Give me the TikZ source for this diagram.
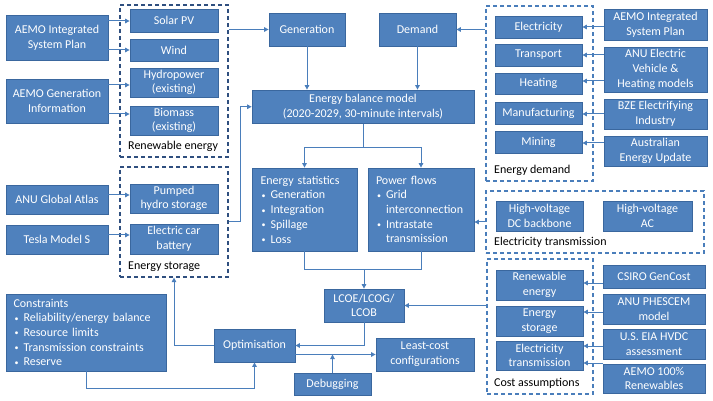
\documentclass[tikz,border=0pt]{standalone}
\usepackage{fontspec}
\setmainfont{Carlito}
\usetikzlibrary{arrows.meta}
\definecolor{bfill}{HTML}{4F81BD}
\definecolor{bline}{HTML}{3A679E}
\definecolor{arrc}{HTML}{4A7EBB}
\definecolor{ddash}{HTML}{2F4F7F}
\definecolor{ldash}{HTML}{4A7EBB}
\newcommand\Bx[7][]{%
  \pgfmathsetmacro\bxw{#5-#3}\pgfmathsetmacro\bxh{#6-#4}%
  \pgfmathsetmacro\bxx{(#3+#5)/2}\pgfmathsetmacro\bxy{(#4+#6)/2}%
  \node[box,minimum width=\bxw pt,minimum height=\bxh pt,#1] (#2) at (\bxx,\bxy) {#7};}
\newcommand\Dx[6][ddash]{%
  \pgfmathsetmacro\bxw{#5-#3}\pgfmathsetmacro\bxh{#6-#4}%
  \pgfmathsetmacro\bxx{(#3+#5)/2}\pgfmathsetmacro\bxy{(#4+#6)/2}%
  \node[dashbox,draw=#1,minimum width=\bxw pt,minimum height=\bxh pt] (#2) at (\bxx,\bxy) {};}
\newcommand\bl[1]{\hspace*{1pt}\makebox[9pt][l]{\raisebox{0.6pt}{\fontsize{8}{8}\selectfont\textbullet}}#1}
\newcommand\rarr[3]{\coordinate (tmp) at (0,#3); \draw[arr] (#1.east |- tmp) -- (#2.west |- tmp);}
\newcommand\larr[3]{\coordinate (tmp) at (0,#3); \draw[arr] (#1.west |- tmp) -- (#2.east |- tmp);}
\begin{document}
\begin{tikzpicture}[x=1pt,y=-1pt,
  box/.style={draw=bline,fill=bfill,text=white,line width=0.8pt,inner sep=1pt,align=center,font=\fontsize{12}{14.7}\selectfont},
  dashbox/.style={dash pattern=on 4pt off 3pt,line width=1.2pt,inner sep=0pt},
  lab/.style={font=\fontsize{12}{14.7}\selectfont,text=black,anchor=west,inner sep=0pt},
  arr/.style={draw=arrc,line width=1pt,-{Triangle[length=4.5pt,width=4.5pt]}},
  ln/.style={draw=arrc,line width=1pt}]
\useasboundingbox[fill=white] (0,0) rectangle (713,401);
% left column
\Bx{isp}{6}{15}{108}{60}{AEMO Integrated\\System Plan}
\Bx{gi}{6}{79}{108}{123}{AEMO Generation\\Information}
\Bx{ga}{6}{185}{108}{214}{ANU Global Atlas}
\Bx{tesla}{6}{225}{108}{254}{Tesla Model S}
% renewable energy
\Dx{renew}{120}{5}{228}{157}
\node[lab] (renewlab) at (128,146) {Renewable energy};
\Bx{solar}{130}{9}{218}{32}{Solar PV}
\Bx{wind}{130}{39}{218}{61}{Wind}
\Bx{hydro}{130}{68}{218}{97}{Hydropower\\(existing)}
\Bx{bio}{130}{106}{218}{135}{Biomass\\(existing)}
% storage
\Dx{stor}{120}{167}{228}{277}
\node[lab] (storlab) at (128,267) {Energy storage};
\Bx{ph}{130}{184}{218}{213}{Pumped\\hydro storage}
\Bx{ecb}{130}{224}{218}{254}{Electric car\\battery}
% centre
\Bx{gen}{269}{13}{345}{46}{Generation}
\Bx{dem}{379}{13}{456}{46}{Demand}
\Bx{ebm}{252}{90}{474}{123.5}{Energy balance model\\(2020-2029, 30-minute intervals)}
\Bx[align=left,text width=88pt]{stat}{252}{168}{357}{251}{Energy statistics\\\bl{Generation}\\\bl{Integration}\\\bl{Spillage}\\\bl{Loss}}
\Bx[align=left,text width=90pt]{pf}{368}{168}{474}{251}{Power flows\\\bl{Grid}\\\hspace*{10pt}interconnection\\\bl{Intrastate}\\\hspace*{10pt}transmission}
\Bx{lcoe}{324}{289}{404}{322}{LCOE/LCOG/\\LCOB}
\Bx{opt}{214}{329}{295}{362}{Optimisation}
\Bx{lc}{376}{338}{474}{371}{Least-cost\\configurations}
\Bx{dbg}{294}{373}{371}{395}{Debugging}
\Bx[align=left,text width=145pt]{con}{6}{294}{166}{371}{Constraints\\\bl{Reliability/energy balance}\\\bl{Resource limits}\\\bl{Transmission constraints}\\\bl{Reserve}}
% energy demand
\Dx[ldash]{edem}{486}{6}{593}{181}
\node[lab] (edemlab) at (494,170) {Energy demand};
\Bx{elec}{495}{16}{582}{38}{Electricity}
\Bx{trans}{495}{44}{582}{66}{Transport}
\Bx{heat}{495}{73}{582}{94}{Heating}
\Bx{manu}{495}{102}{582}{124}{Manufacturing}
\Bx{mine}{495}{131}{582}{153}{Mining}
\Bx{risp}{604}{9}{707}{40}{AEMO Integrated\\System Plan}
\Bx{anu}{604}{47}{707}{92}{ANU Electric\\Vehicle \&\\Heating models}
\Bx{bze}{604}{99}{707}{129}{BZE Electrifying\\Industry}
\Bx{aeu}{604}{136}{707}{166}{Australian\\Energy Update}
% electricity transmission
\Dx[ldash]{etr}{486}{191}{704}{253}
\node[lab] (etrlab) at (494,242) {Electricity transmission};
\Bx{hvdc}{496}{201}{583}{231}{High-voltage\\DC backbone}
\Bx{hvac}{603}{201}{692}{231}{High-voltage\\AC}
% cost assumptions
\Dx[ldash]{cost}{487}{259}{593}{394}
\node[lab] (costlab) at (494,383) {Cost assumptions};
\Bx{cre}{496}{270}{583}{300}{Renewable\\energy}
\Bx{cst}{496}{306}{583}{336}{Energy\\storage}
\Bx{ctr}{496}{341}{583}{370}{Electricity\\transmission}
\Bx{csiro}{603}{265}{705}{288}{CSIRO GenCost}
\Bx{phes}{603}{294}{705}{324}{ANU PHESCEM\\model}
\Bx{eia}{603}{329}{705}{359}{U.S. EIA HVDC\\assessment}
\Bx{a100}{603}{364}{705}{393}{AEMO 100\%\\Renewables}
% connectors: left inputs
\rarr{isp}{solar}{21}
\rarr{isp}{wind}{50}
\rarr{gi}{hydro}{85}
\rarr{gi}{bio}{114}
\rarr{ga}{ph}{195}
\rarr{tesla}{ecb}{235}
% right inputs
\larr{risp}{elec}{27}
\larr{anu}{trans}{55}
\larr{anu}{heat}{81}
\larr{bze}{manu}{114}
\larr{aeu}{mine}{143}
\larr{csiro}{cre}{283}
\larr{phes}{cst}{312}
\larr{eia}{ctr}{346}
\larr{a100}{ctr}{363}
% centre flows
\draw[arr] (renew.east |- gen.west) -- (gen.west);
\draw[arr] (edem.west |- dem.east) -- (dem.east);
\draw[arr] (gen.south) -- (gen.south |- ebm.north);
\draw[arr] (dem.south) -- (dem.south |- ebm.north);
\draw[arr] (stor.east) -- ++(12,0) |- (ebm.west);
\draw[arr] (ebm.south) -- ++(0,23.5) -| (stat.north);
\draw[arr] (ebm.south) -- ++(0,23.5) -| (pf.north);
\draw[arr] (etr.west) -- (etr.west -| pf.east);
\path (lcoe.north) ++(0,-19) coordinate (j2);
\draw[ln] (stat.south) |- (j2) -| (pf.south);
\draw[arr] (j2) -- (lcoe.north);
\draw[arr] (cost.west |- lcoe.east) -- (lcoe.east);
\draw[arr] (lcoe.south) |- (opt.east);
\draw[arr] (opt.east |- lc.west) -- (lc.west);
\draw[arr] (dbg.north) -- (dbg.north |- lc.west);
\draw[arr] (con.south) -- ++(0,17) -| (opt.south);
\draw[arr] (opt.west) -| (stor.south);
\end{tikzpicture}
\end{document}
